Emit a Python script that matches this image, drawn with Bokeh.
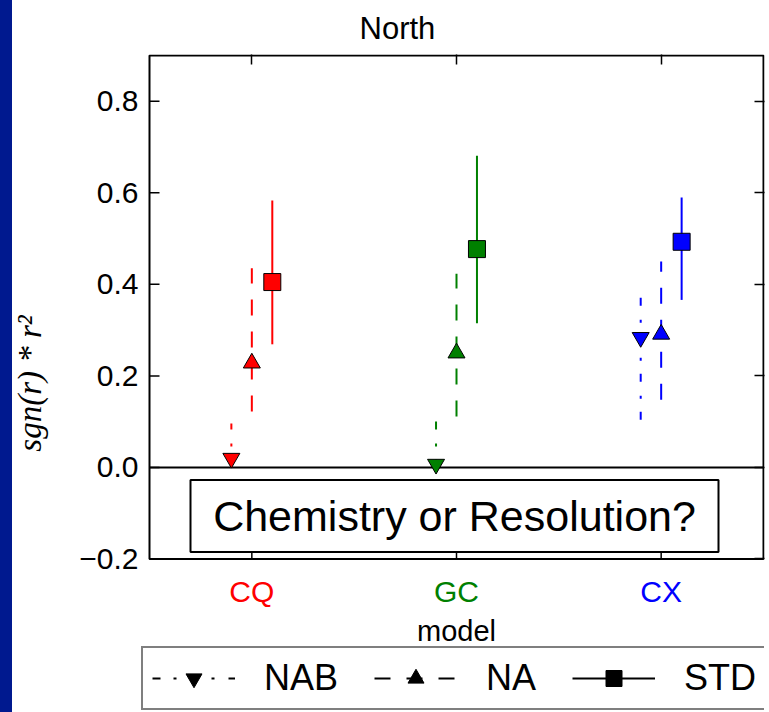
from bokeh.plotting import figure
from bokeh.models import (ColumnDataSource, Range1d, FixedTicker, LinearAxis,
                          Label, Legend, LegendItem, CustomJSTickFormatter)
from bokeh.transform import dodge
from bokeh.core.properties import value
from bokeh.embed import file_html
from bokeh.resources import INLINE

# ---- data ----
models = ["CQ", "GC", "CX"]
model_colors = ["#ff0000", "#008000", "#0000ff"]

nab_val = [0.020, 0.007, 0.284]
nab_lo = [0.000, 0.000, 0.104]
nab_hi = [0.096, 0.124, 0.395]

na_val = [0.228, 0.250, 0.291]
na_lo = [0.122, 0.111, 0.148]
na_hi = [0.435, 0.423, 0.450]

std_val = [0.405, 0.477, 0.493]
std_lo = [0.269, 0.315, 0.366]
std_hi = [0.583, 0.681, 0.590]

series_names = ["NAB", "NA", "STD"]
y_ticks = [-0.2, 0.0, 0.2, 0.4, 0.6, 0.8]
Y_LO, Y_HI = -0.2, 0.9

n = len(models)
xpos = [i + 0.5 for i in range(n)]       # category centres on the categorical axis

src = ColumnDataSource(dict(
    model=models, color=model_colors, xpos=xpos,
    NAB=nab_val, NAB_lo=nab_lo, NAB_hi=nab_hi,
    NA=na_val, NA_lo=na_lo, NA_hi=na_hi,
    STD=std_val, STD_lo=std_lo, STD_hi=std_hi,
))

FONT = "Liberation Sans"

# ---- geometry (pixels) ----
W, H = 769, 712
BOX_LEFT, BOX_RIGHT = 149, 763          # axes box (x 0..n)
BOX_TOP, BOX_BOTTOM = 53, 558           # axes box (y -0.2..0.9)
FRAME_LEFT, FRAME_RIGHT = 140, 764
FRAME_TOP, FRAME_BOTTOM = 52, 712
TICK = 10
PXU = (BOX_BOTTOM - BOX_TOP) / (Y_HI - Y_LO)
PXX = (BOX_RIGHT - BOX_LEFT) / n
y_start = Y_LO - (FRAME_BOTTOM - BOX_BOTTOM) / PXU
y_end = Y_HI + (BOX_TOP - FRAME_TOP) / PXU
x_start = 0 - (BOX_LEFT - FRAME_LEFT) / PXX
x_end = n + (FRAME_RIGHT - BOX_RIGHT) / PXX

p = figure(x_range=Range1d(x_start, x_end), y_range=Range1d(y_start, y_end),
           width=W, height=H, output_backend="svg", toolbar_location=None,
           x_axis_location="above",
           min_border_left=FRAME_LEFT, min_border_right=W - FRAME_RIGHT,
           min_border_top=FRAME_TOP, min_border_bottom=H - FRAME_BOTTOM)
p.border_fill_color = None
p.background_fill_color = "white"
p.outline_line_color = None
p.grid.visible = False

# title
p.title.text = "North"
p.title.text_font = FONT
p.title.text_font_size = "31px"
p.title.text_font_style = "normal"
p.title.text_color = "black"
p.title.align = "left"
p.title.offset = 359 - FRAME_LEFT
p.title.standoff = 17

styles = {
    "NAB": dict(marker="inverted_triangle", dash="8 13 3 14", off=-0.1),
    "NA": dict(marker="triangle", dash="16 16", off=0.0),
    "STD": dict(marker="square", dash="solid", off=0.1),
}

# zero line (inside the box only)
p.segment(x0=[0], x1=[n], y0=[0], y1=[0], line_color="black", line_width=2)

hidden = ColumnDataSource(dict(x=[xpos[0]], y=[y_start - 10]))   # legend-only renderers (off frame)
items = []
for name in series_names:
    st = styles[name]
    xd = dodge("xpos", st["off"])
    p.segment(x0=xd, y0=name + "_lo", x1=xd, y1=name + "_hi", line_color="color",
              line_width=2, line_dash=st["dash"], source=src)
    p.scatter(x=xd, y=name, marker=st["marker"], size=17, fill_color="color",
              line_color="black", line_width=1, source=src)
    ln = p.line(x="x", y="y", source=hidden, line_color="black", line_width=2, line_dash=st["dash"])
    mk = p.scatter(x="x", y="y", source=hidden, marker=st["marker"], size=17,
                   fill_color="black", line_color="black")
    items.append(LegendItem(label=name, renderers=[ln, mk]))

# axes box outline and inward ticks (bottom and left)
p.quad(left=[0], right=[n], bottom=[Y_LO], top=[Y_HI], fill_color=None,
       line_color="black", line_width=2)
p.segment(x0=xpos, x1=xpos, y0=[Y_LO] * n, y1=[Y_LO + TICK / PXU] * n,
          line_color="black", line_width=1.5)
p.segment(x0=[0] * len(y_ticks), x1=[TICK / PXX] * len(y_ticks), y0=y_ticks, y1=y_ticks,
          line_color="black", line_width=1.5)

# text box
box_x = (454 - BOX_LEFT) / PXX
box_y = Y_LO + (BOX_BOTTOM - 515) / PXU
p.rect(x=[box_x], y=[box_y], width=528, height=72, width_units="screen", height_units="screen",
       fill_color="white", line_color="black", line_width=2)
p.add_layout(Label(x=box_x, y=box_y, text="Chemistry or Resolution?", text_align="center",
                   text_baseline="middle", text_font=FONT, text_font_size="43px",
                   text_color="black"))

# coloured category labels and x-axis title (inside the extended frame)
p.text(x="xpos", y=Y_LO - (591 - BOX_BOTTOM) / PXU, text="model", text_color="color", source=src,
       text_align="center", text_baseline="alphabetic", text_font_size="30px",
       text_font=value(FONT))
p.add_layout(Label(x=n / 2, y=Y_LO - (630 - BOX_BOTTOM) / PXU, text="model", text_align="center",
                   text_baseline="alphabetic", text_font=FONT, text_font_size="29px",
                   text_color="black"))

# y axis (labels only; ticks drawn at the box edge above)
ya = p.yaxis[0]
ya.ticker = FixedTicker(ticks=y_ticks)
ya.bounds = (Y_LO, Y_HI)
ya.formatter = CustomJSTickFormatter(code="return tick.toFixed(1).replace('-', '\u2212')")
ya.major_label_text_font = FONT
ya.major_label_text_font_size = "30px"
ya.major_label_text_color = "black"
ya.major_label_standoff = 2
ya.major_tick_in = 0
ya.major_tick_out = 0
ya.axis_label = "sgn(r) * r\u00b2"
ya.axis_label_text_font = "Liberation Serif"
ya.axis_label_text_font_style = "italic"
ya.axis_label_text_font_size = "33px"
ya.axis_label_text_color = "black"
ya.axis_label_standoff = 28
ya.axis_line_color = None
ya.minor_tick_line_color = None

# top axis (ticks only)
xa = p.xaxis[0]
xa.ticker = FixedTicker(ticks=xpos)
xa.major_label_text_color = None
xa.major_label_text_font_size = "1px"
xa.major_label_standoff = 0
xa.axis_line_color = None
xa.major_tick_in = TICK
xa.major_tick_out = 0
xa.major_tick_line_width = 1.5
xa.major_tick_line_color = "black"
xa.minor_tick_line_color = None

right_axis = LinearAxis(ticker=FixedTicker(ticks=y_ticks), bounds=(Y_LO, Y_HI),
                        major_label_text_color=None, major_label_text_font_size="1px",
                        major_label_standoff=0, axis_line_color=None, major_tick_in=TICK,
                        major_tick_out=0, major_tick_line_width=1.5, major_tick_line_color="black",
                        minor_tick_line_color=None)
p.add_layout(right_axis, "right")

legend = Legend(items=items, orientation="horizontal", location=(141 - FRAME_LEFT, FRAME_BOTTOM - 710),
                label_text_font=FONT, label_text_font_size="36px", label_text_color="black",
                glyph_width=83, glyph_height=40, label_height=28, label_standoff=29,
                spacing=36, padding=9, margin=0,
                border_line_color="black", border_line_width=2,
                background_fill_color="white", background_fill_alpha=1)
p.add_layout(legend)

tmpl = ("{% block preamble %}<style>html{background:linear-gradient(to right,"
        "#00198f 0px,#00198f 12px,#ffffff 12px);}</style>{% endblock %}")

open("out.html", "w", encoding="utf-8").write(file_html(p, INLINE, template=tmpl))
